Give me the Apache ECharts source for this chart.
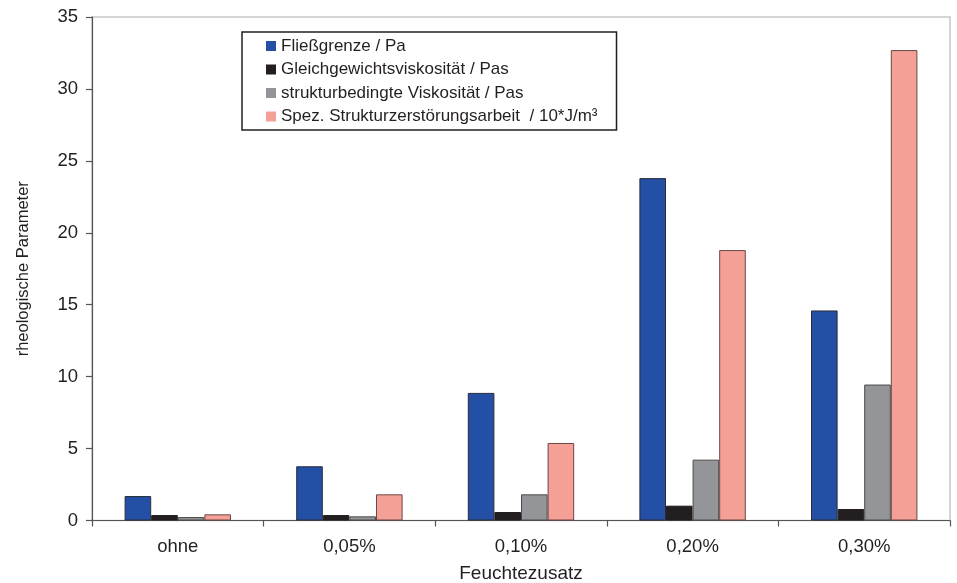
<!DOCTYPE html>
<html>
<head>
<meta charset="utf-8">
<script src="https://cdn.jsdelivr.net/npm/echarts@6/dist/echarts.min.js"></script>
<style>
  html, body { margin: 0; padding: 0; background: #fff; }
  #chart { width: 957px; height: 583px; }
</style>
</head>
<body>
<div id="chart"></div>
<script>
// Moisture additive levels
const categories = ['ohne', '0,05%', '0,10%', '0,20%', '0,30%'];

// Rheological parameters per additive level
const fliessgrenze = [1.7, 3.77, 8.87, 23.8, 14.6];
const gleichgewichtsViskositaet = [0.38, 0.38, 0.59, 1.03, 0.8];
const strukturViskositaet = [0.24, 0.29, 1.82, 4.23, 9.45];
const zerstoerungsarbeit = [0.43, 1.82, 5.39, 18.8, 32.7];

const seriesNames = [
  'Fließgrenze / Pa',
  'Gleichgewichtsviskosität / Pas',
  'strukturbedingte Viskosität / Pas',
  'Spez. Strukturzerstörungsarbeit  / 10*J/m³'
];

const yTicks = [0, 5, 10, 15, 20, 25, 30, 35];

const fillColors = ['#2350a4', '#231f20', '#939598', '#f5a097'];
const edgeColors = ['#2b2b3a', '#231f20', '#4a4a4a', '#6b4644'];
const values = [fliessgrenze, gleichgewichtsViskositaet, strukturViskositaet, zerstoerungsarbeit];

const font = 'Liberation Sans, Arial, sans-serif';

const chart = echarts.init(document.getElementById('chart'), null, { renderer: 'canvas' });

chart.setOption({
  animation: false,
  backgroundColor: '#ffffff',
  textStyle: { fontFamily: font },
  grid: {
    left: 92, right: 7, top: 17, bottom: 62.5,
    outerBoundsMode: 'none',
    show: true, borderColor: '#c8c8c8', borderWidth: 1.5,
    containLabel: false
  },
  legend: {
    orient: 'vertical',
    left: 242, top: 32,
    padding: [5.5, 19, 5, 24],
    itemWidth: 10, itemHeight: 10, itemGap: 6.5,
    icon: 'rect',
    borderColor: '#231f20', borderWidth: 1.5,
    backgroundColor: '#ffffff',
    textStyle: { fontFamily: font, fontSize: 17, color: '#231f20', lineHeight: 17 },
    data: seriesNames.map((n, i) => ({ name: n, itemStyle: { color: fillColors[i], borderWidth: 0 } }))
  },
  xAxis: {
    type: 'category',
    data: categories,
    name: 'Feuchtezusatz',
    nameLocation: 'middle',
    nameGap: 44,
    nameTextStyle: { fontFamily: font, fontSize: 19, color: '#231f20' },
    axisLine: { lineStyle: { color: '#555555', width: 1.2 } },
    axisTick: { show: true, length: 6, lineStyle: { color: '#555555', width: 1.2 } },
    axisLabel: { fontFamily: font, fontSize: 18.5, color: '#231f20', margin: 17 },
    splitLine: { show: false }
  },
  yAxis: {
    type: 'value',
    min: yTicks[0], max: yTicks[yTicks.length - 1], interval: 5,
    name: 'rheologische Parameter',
    nameLocation: 'middle',
    nameGap: 60,
    nameTextStyle: { fontFamily: font, fontSize: 16.5, color: '#231f20' },
    axisLine: { show: true, lineStyle: { color: '#555555', width: 1.2 } },
    axisTick: { show: true, length: 6, lineStyle: { color: '#555555', width: 1.2 } },
    axisLabel: { fontFamily: font, fontSize: 18.5, color: '#231f20', margin: 14 },
    splitLine: { show: false }
  },
  series: seriesNames.map((n, i) => ({
    name: n,
    type: 'bar',
    data: values[i],
    barGap: '0%',
    barCategoryGap: '38%',
    itemStyle: { color: fillColors[i], borderColor: edgeColors[i], borderWidth: 1 }
  }))
});
</script>
</body>
</html>
